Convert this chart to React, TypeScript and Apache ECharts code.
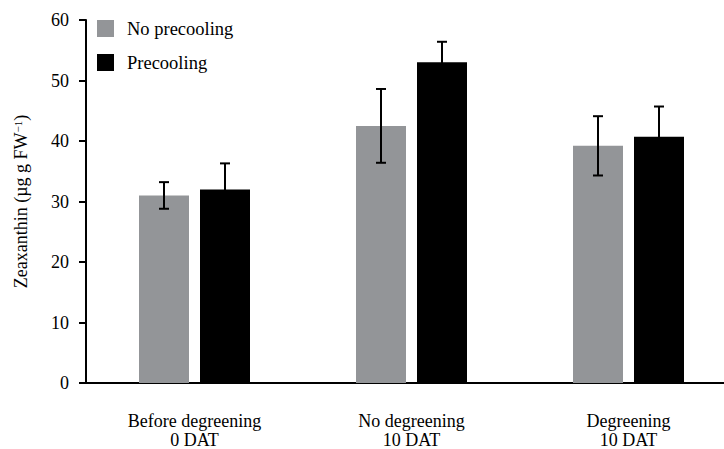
import React, { useEffect, useRef } from "react";
import * as echarts from "echarts";

const categories = ["Before degreening\n0 DAT", "No degreening\n10 DAT", "Degreening\n10 DAT"];
const seriesNames = ["No precooling", "Precooling"];
const noPrecooling = [31.0, 42.5, 39.2];
const noPrecoolingErr = [2.2, 6.1, 4.9];
const precooling = [32.0, 53.0, 40.7];
const precoolingErr = [4.3, 3.4, 5.0];
const yTicks = { min: 0, max: 60, interval: 10 };

const FONT = "'Liberation Serif', 'Times New Roman', serif";
const BAR_W = 50;
const GAP = 11;

function errorSeries(name: string, values: number[], errs: number[], sign: number) {
  return {
    type: "custom",
    name,
    z: 10,
    data: values.map((v, i) => [i, v, errs[i]]),
    encode: { x: 0, y: 1 },
    renderItem: (params: any, api: any) => {
      const cat = api.value(0);
      const val = api.value(1);
      const err = api.value(2);
      const c = api.coord([cat, val]);
      const hi = api.coord([cat, val + err]);
      const lo = api.coord([cat, val - err]);
      const x = c[0] + (sign * (BAR_W + GAP)) / 2;
      const half = 5;
      const style = { stroke: "#000", lineWidth: 2 };
      return {
        type: "group",
        children: [
          { type: "line", shape: { x1: x, y1: hi[1], x2: x, y2: lo[1] }, style },
          { type: "line", shape: { x1: x - half, y1: hi[1], x2: x + half, y2: hi[1] }, style },
          { type: "line", shape: { x1: x - half, y1: lo[1], x2: x + half, y2: lo[1] }, style },
        ],
      };
    },
  };
}

export default function App() {
  const ref = useRef<HTMLDivElement>(null);
  useEffect(() => {
    document.body.style.margin = "0";
    document.body.style.overflow = "hidden";
    const chart = echarts.init(ref.current!, null, { renderer: "svg" });
    chart.setOption({
      animation: false,
      backgroundColor: "#fff",
      textStyle: { fontFamily: FONT, color: "#000" },
      grid: { left: 86, top: 20, right: 0, height: 365 },
      legend: {
        data: seriesNames,
        orient: "vertical",
        left: 97,
        top: 19,
        padding: 0,
        itemWidth: 17,
        itemHeight: 17,
        itemGap: 15,
        icon: "rect",
        textStyle: { fontFamily: FONT, fontSize: 18.5, color: "#000", padding: [0, 0, 0, 8] },
      },
      xAxis: {
        type: "category",
        data: categories,
        axisLine: { lineStyle: { color: "#000", width: 2 } },
        axisTick: { alignWithLabel: true, length: 7, lineStyle: { color: "#000", width: 2 } },
        axisLabel: { fontFamily: FONT, fontSize: 18, lineHeight: 19, color: "#000", margin: 28 },
      },
      yAxis: {
        type: "value",
        min: yTicks.min,
        max: yTicks.max,
        interval: yTicks.interval,
        name: "Zeaxanthin (µg g FW{sup|−1})",
        nameLocation: "middle",
        nameGap: 56,
        nameTextStyle: {
          fontFamily: FONT,
          fontSize: 18,
          color: "#000",
          rich: { sup: { fontFamily: FONT, fontSize: 11, verticalAlign: "top", lineHeight: 18 } },
        },
        axisLine: { show: true, lineStyle: { color: "#000", width: 2 } },
        axisTick: { show: true, length: 7, lineStyle: { color: "#000", width: 2 } },
        axisLabel: { fontFamily: FONT, fontSize: 18, color: "#000", margin: 17 },
        splitLine: { show: false },
      },
      series: [
        {
          type: "bar",
          name: seriesNames[0],
          data: noPrecooling,
          barWidth: BAR_W,
          barGap: `${(GAP / BAR_W) * 100}%`,
          itemStyle: { color: "#939598" },
        },
        {
          type: "bar",
          name: seriesNames[1],
          data: precooling,
          barWidth: BAR_W,
          barGap: `${(GAP / BAR_W) * 100}%`,
          itemStyle: { color: "#000" },
        },
        errorSeries("err0", noPrecooling, noPrecoolingErr, -1),
        errorSeries("err1", precooling, precoolingErr, 1),
      ],
    });
    return () => chart.dispose();
  }, []);
  return (
    <div style={{ width: 724, height: 449, overflow: "hidden", position: "relative" }}>
      <div ref={ref} style={{ width: 737, height: 449 }} />
    </div>
  );
}
